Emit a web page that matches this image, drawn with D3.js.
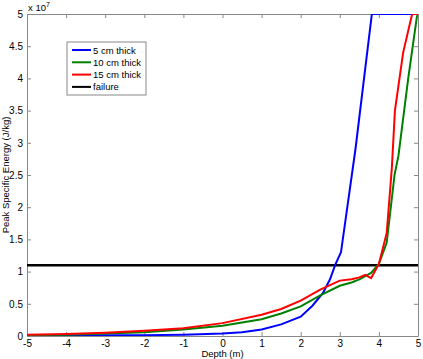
<!DOCTYPE html>
<html>
<head>
<meta charset="utf-8">
<script src="https://cdn.jsdelivr.net/npm/d3@7"></script>
<style>
  body { margin: 0; background: #fff; }
  svg { display: block; font-family: "Liberation Sans", Arial, sans-serif; }
  .axis text { font-size: 10px; fill: #000; }
  .axis path, .axis line { stroke: #888; }
</style>
</head>
<body>
<svg id="chart"></svg>
<script>
// depth (m) and peak specific energy (x 1e7 J/kg)
const depth5 = [-5, -4, -3, -2, -1, 0, 0.5, 1, 1.5, 2, 2.3, 2.57, 2.75, 2.88, 3.03, 3.4, 3.82, 5]
const energy5 = [0.005, 0.007, 0.01, 0.013, 0.02, 0.04, 0.06, 0.1, 0.18, 0.3, 0.47, 0.67, 0.88, 1.1, 1.3, 2.9, 5.0, 5.0]

const depth10 = [-5, -4, -3, -2, -1, 0, 1, 1.5, 2, 2.5, 3, 3.3, 3.5, 3.8, 4.0, 4.2, 4.4, 4.5, 4.75, 4.97, 5]
const energy10 = [0.015, 0.02, 0.04, 0.06, 0.1, 0.16, 0.26, 0.35, 0.46, 0.63, 0.78, 0.83, 0.88, 0.98, 1.12, 1.45, 2.5, 2.8, 4.0, 4.95, 5.0]

const depth15 = [-5, -4, -3, -2, -1, 0, 1, 1.5, 2, 2.5, 3, 3.3, 3.5, 3.65, 3.8, 4.0, 4.2, 4.33, 4.41, 4.62, 4.85, 5]
const energy15 = [0.02, 0.03, 0.05, 0.08, 0.12, 0.2, 0.33, 0.42, 0.55, 0.72, 0.86, 0.88, 0.91, 0.95, 0.9, 1.12, 1.6, 2.6, 3.5, 4.4, 5.0, 5.0]

const failure = 1.1

const xTicks = [-5, -4, -3, -2, -1, 0, 1, 2, 3, 4, 5]
const yTicks = [0, 0.5, 1, 1.5, 2, 2.5, 3, 3.5, 4, 4.5, 5]

const series = [
  { name: '5 cm thick', color: '#0000ff', x: depth5, y: energy5 },
  { name: '10 cm thick', color: '#008000', x: depth10, y: energy10 },
  { name: '15 cm thick', color: '#ff0000', x: depth15, y: energy15 },
]

const width = 423, height = 359
const margin = { top: 14, right: 5, bottom: 23, left: 27 }
const w = width - margin.left - margin.right
const h = height - margin.top - margin.bottom

const svg = d3.select('#chart').attr('width', width).attr('height', height)
const g = svg.append('g').attr('transform', 'translate(' + margin.left + ',' + margin.top + ')')

const x = d3.scaleLinear().domain([-5, 5]).range([0, w])
const y = d3.scaleLinear().domain([0, 5]).range([h, 0])

g.append('defs').append('clipPath').attr('id', 'clip')
  .append('rect').attr('width', w).attr('height', h)

// axes with inward ticks, on all four sides
g.append('g').attr('class', 'axis').attr('transform', 'translate(0,' + h + ')')
  .call(d3.axisBottom(x).tickValues(xTicks).tickSizeInner(-4).tickSizeOuter(0).tickPadding(4).tickFormat(d => String(d)))
g.append('g').attr('class', 'axis')
  .call(d3.axisTop(x).tickValues(xTicks).tickSizeInner(-4).tickSizeOuter(0).tickFormat(''))
g.append('g').attr('class', 'axis')
  .call(d3.axisLeft(y).tickValues(yTicks).tickSizeInner(-4).tickSizeOuter(0).tickPadding(4).tickFormat(d => String(d)))
g.append('g').attr('class', 'axis').attr('transform', 'translate(' + w + ',0)')
  .call(d3.axisRight(y).tickValues(yTicks).tickSizeInner(-4).tickSizeOuter(0).tickFormat(''))

const line = d3.line().x(d => x(d[0])).y(d => y(d[1]))

const lines = g.append('g').attr('clip-path', 'url(#clip)')
lines.append('line')
  .attr('x1', x(-5)).attr('x2', x(5))
  .attr('y1', y(failure)).attr('y2', y(failure))
  .attr('stroke', '#000').attr('stroke-width', 2.5)

series.forEach(s => {
  lines.append('path')
    .datum(d3.zip(s.x, s.y))
    .attr('fill', 'none')
    .attr('stroke', s.color)
    .attr('stroke-width', 2)
    .attr('d', line)
})

// exponent label
const ex = svg.append('text').attr('x', 28).attr('y', 11).attr('font-size', 9.5)
ex.append('tspan').text('x 10')
ex.append('tspan').attr('dy', -4).attr('font-size', 7).text('7')

// axis titles
svg.append('text')
  .attr('x', margin.left + x(0)).attr('y', 357)
  .attr('text-anchor', 'middle').attr('font-size', 9.5)
  .text('Depth  (m)')
svg.append('text')
  .attr('transform', 'translate(9,' + (margin.top + h / 2) + ') rotate(-90)')
  .attr('text-anchor', 'middle').attr('font-size', 9.5)
  .text('Peak Specific Energy  (J/kg)')

// legend
const legendItems = series.map(s => ({ name: s.name, color: s.color })).concat([{ name: 'failure', color: '#000' }])
const lg = svg.append('g').attr('transform', 'translate(67,42)')
lg.append('rect').attr('width', 79).attr('height', 53)
  .attr('fill', '#fff').attr('stroke', '#888').attr('stroke-width', 1)
legendItems.forEach((d, i) => {
  const yy = 8 + i * 12.3
  lg.append('line').attr('x1', 5).attr('x2', 24).attr('y1', yy).attr('y2', yy)
    .attr('stroke', d.color).attr('stroke-width', 2)
  lg.append('text').attr('x', 26).attr('y', yy + 3.5).attr('font-size', 9.5).text(d.name)
})
</script>
</body>
</html>
